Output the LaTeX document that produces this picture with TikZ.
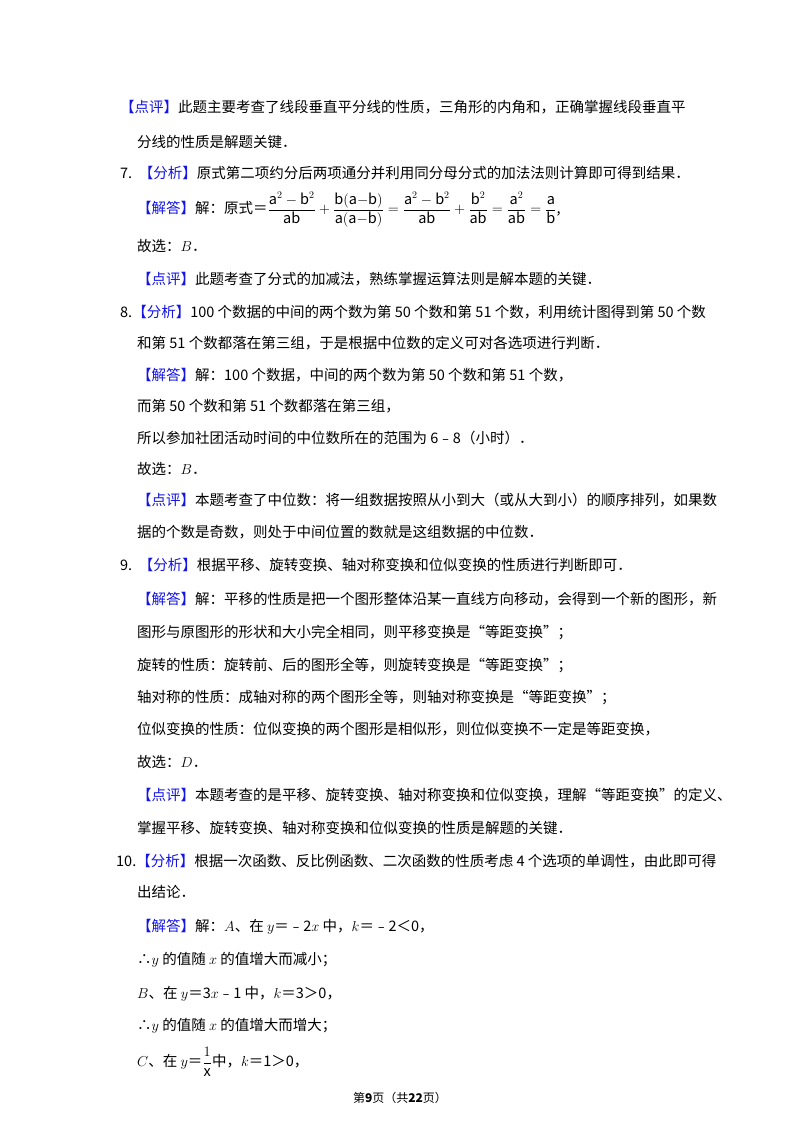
\documentclass[tikz,border=0pt]{standalone}
\usepackage{amsmath}
\usepackage{fontspec}
\setmainfont{Noto Sans CJK SC}
\definecolor{lab}{RGB}{20,20,230}
\newcommand{\lb}[1]{\textcolor{lab}{【#1】}}
\begin{document}
\begin{tikzpicture}[x=1pt,y=-1pt,t/.style={anchor=west,inner sep=0pt,font=\fontsize{14.5}{16}\selectfont}]
\useasboundingbox[fill=white] (0,0) rectangle (800,1132);
\node[t] (l1) at (120,107) {\lb{点评}此题主要考查了线段垂直平分线的性质，三角形的内角和，正确掌握线段垂直平};
\node[t] (l2) at (137,142) {分线的性质是解题关键．};
\node[t] (l3) at (120,173) {7.\ \ \lb{分析}原式第二项约分后两项通分并利用同分母分式的加法法则计算即可得到结果．};
\node[t] (l4) at (137,210) {\lb{解答}解：原式＝$\displaystyle\frac{\mathrm{a}^2-\mathrm{b}^2}{\mathrm{ab}}+\frac{\mathrm{b(a{-}b)}}{\mathrm{a(a{-}b)}}=\frac{\mathrm{a}^2-\mathrm{b}^2}{\mathrm{ab}}+\frac{\mathrm{b}^2}{\mathrm{ab}}=\frac{\mathrm{a}^2}{\mathrm{ab}}=\frac{\mathrm{a}}{\mathrm{b}}$,};
\node[t] (l5) at (137,246) {故选：$B$．};
\node[t] (l6) at (137,279) {\lb{点评}此题考查了分式的加减法，熟练掌握运算法则是解本题的关键．};
\node[t] (l7) at (120,312) {8.\lb{分析}100 个数据的中间的两个数为第 50 个数和第 51 个数，利用统计图得到第 50 个数};
\node[t] (l8) at (137,343) {和第 51 个数都落在第三组，于是根据中位数的定义可对各选项进行判断．};
\node[t] (l9) at (137,375) {\lb{解答}解：100 个数据，中间的两个数为第 50 个数和第 51 个数，};
\node[t] (l10) at (137,406) {而第 50 个数和第 51 个数都落在第三组，};
\node[t] (l11) at (137,438) {所以参加社团活动时间的中位数所在的范围为 6﹣8（小时）．};
\node[t] (l12) at (137,469) {故选：$B$．};
\node[t] (l13) at (137,500) {\lb{点评}本题考查了中位数：将一组数据按照从小到大（或从大到小）的顺序排列，如果数};
\node[t] (l14) at (137,532) {据的个数是奇数，则处于中间位置的数就是这组数据的中位数．};
\node[t] (l15) at (120,565) {9.\ \ \lb{分析}根据平移、旋转变换、轴对称变换和位似变换的性质进行判断即可．};
\node[t] (l16) at (137,599) {\lb{解答}解：平移的性质是把一个图形整体沿某一直线方向移动，会得到一个新的图形，新};
\node[t] (l17) at (137,632) {图形与原图形的形状和大小完全相同，则平移变换是“等距变换”；};
\node[t] (l18) at (137,665) {旋转的性质：旋转前、后的图形全等，则旋转变换是“等距变换”；};
\node[t] (l19) at (137,697) {轴对称的性质：成轴对称的两个图形全等，则轴对称变换是“等距变换”；};
\node[t] (l20) at (137,729) {位似变换的性质：位似变换的两个图形是相似形，则位似变换不一定是等距变换，};
\node[t] (l21) at (137,762) {故选：$D$．};
\node[t] (l22) at (137,795) {\lb{点评}本题考查的是平移、旋转变换、轴对称变换和位似变换，理解“等距变换”的定义、};
\node[t] (l23) at (137,828) {掌握平移、旋转变换、轴对称变换和位似变换的性质是解题的关键．};
\node[t] (l24) at (116,861) {10.\lb{分析}根据一次函数、反比例函数、二次函数的性质考虑 4 个选项的单调性，由此即可得};
\node[t] (l25) at (137,892) {出结论．};
\node[t] (l26) at (137,927) {\lb{解答}解：$A$、在 $y$＝﹣2$x$ 中，$k$＝﹣2＜0，};
\node[t] (l27) at (137,960) {∴$y$ 的值随 $x$ 的值增大而减小；};
\node[t] (l28) at (137,994) {$B$、在 $y$＝3$x$﹣1 中，$k$＝3＞0，};
\node[t] (l29) at (137,1026) {∴$y$ 的值随 $x$ 的值增大而增大；};
\node[t] (l30) at (137,1062) {$C$、在 $y$＝$\dfrac{1}{\mathrm{x}}$中，$k$＝1＞0，};
\node[anchor=center,inner sep=0pt,font=\fontsize{12}{14}\selectfont] (ft) at (400,1098) {第\textbf{9}页（共\textbf{22}页）};
\end{tikzpicture}
\end{document}
